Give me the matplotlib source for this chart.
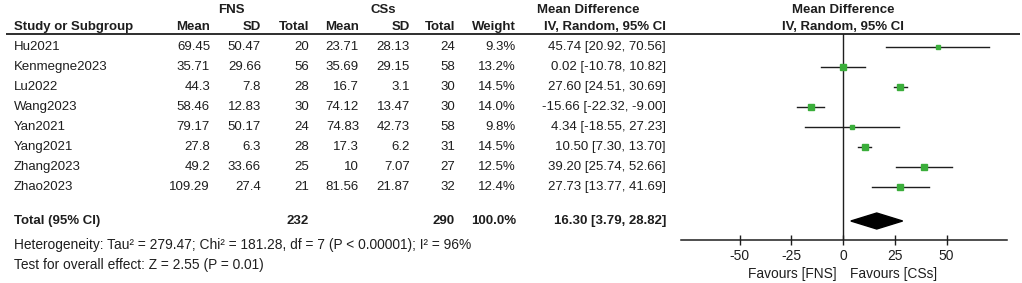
import matplotlib
matplotlib.use('Agg')
import matplotlib.pyplot as plt
from matplotlib.patches import Polygon

plt.rcParams['font.family'] = ['Liberation Sans', 'DejaVu Sans']

studies = ['Hu2021', 'Kenmegne2023', 'Lu2022', 'Wang2023', 'Yan2021',
           'Yang2021', 'Zhang2023', 'Zhao2023']
fns_mean = ['69.45', '35.71', '44.3', '58.46', '79.17', '27.8', '49.2', '109.29']
fns_sd = ['50.47', '29.66', '7.8', '12.83', '50.17', '6.3', '33.66', '27.4']
fns_n = [20, 56, 28, 30, 24, 28, 25, 21]
css_mean = ['23.71', '35.69', '16.7', '74.12', '74.83', '17.3', '10', '81.56']
css_sd = ['28.13', '29.15', '3.1', '13.47', '42.73', '6.2', '7.07', '21.87']
css_n = [24, 58, 30, 30, 58, 31, 27, 32]
weight = [9.3, 13.2, 14.5, 14.0, 9.8, 14.5, 12.5, 12.4]
md = [45.74, 0.02, 27.60, -15.66, 4.34, 10.50, 39.20, 27.73]
lo = [20.92, -10.78, 24.51, -22.32, -18.55, 7.30, 25.74, 13.77]
hi = [70.56, 10.82, 30.69, -9.00, 27.23, 13.70, 52.66, 41.69]

total_fns, total_css = 232, 290
pooled, pooled_lo, pooled_hi = 16.30, 3.79, 28.82
het_text = 'Heterogeneity: Tau\u00b2 = 279.47; Chi\u00b2 = 181.28, df = 7 (P < 0.00001); I\u00b2 = 96%'
test_text = 'Test for overall effect: Z = 2.55 (P = 0.01)'
ticks = [-50, -25, 0, 25, 50]

W, H = 1022, 283
fig = plt.figure(figsize=(W / 100, H / 100), dpi=100)
fig.patch.set_facecolor('white')

# text layer in pixel coordinates
tx = fig.add_axes([0, 0, 1, 1])
tx.set_xlim(0, W)
tx.set_ylim(H, 0)
tx.axis('off')

fs = 9.5
fs_long = 9.9
col = '#1e1e1e'
rows_y = [47 + 20 * i for i in range(len(studies))]
y_total, y_het, y_test = 221, 245, 265

# column right edges
c_name = 14
c_fm, c_fsd, c_fn = 210, 261, 309
c_cm, c_csd, c_cn = 359, 410, 455
c_w, c_ci = 516, 666


def t(x, y, s, ha='right', bold=False, size=fs):
    tx.text(x, y, s, ha=ha, va='center', fontsize=size, color=col,
            fontweight='bold' if bold else 'normal')


t(231, 10, 'FNS', ha='center', bold=True)
t(383, 10, 'CSs', ha='center', bold=True)
t(537, 10, 'Mean Difference', ha='left', bold=True)
t(843, 10, 'Mean Difference', ha='center', bold=True)

hy = 27
t(c_name, hy, 'Study or Subgroup', ha='left', bold=True)
for x, s in [(c_fm, 'Mean'), (c_fsd, 'SD'), (c_fn, 'Total'), (c_cm, 'Mean'),
             (c_csd, 'SD'), (c_cn, 'Total'), (c_w, 'Weight')]:
    t(x, hy, s, bold=True)
t(c_ci, hy, 'IV, Random, 95% CI', bold=True)
t(843, hy, 'IV, Random, 95% CI', ha='center', bold=True)
tx.plot([6, 1020], [34, 34], color=col, lw=1.3, solid_capstyle='butt')

for i, y in enumerate(rows_y):
    t(c_name, y, studies[i], ha='left')
    t(c_fm, y, fns_mean[i])
    t(c_fsd, y, fns_sd[i])
    t(c_fn, y, str(fns_n[i]))
    t(c_cm, y, css_mean[i])
    t(c_csd, y, css_sd[i])
    t(c_cn, y, str(css_n[i]))
    t(c_w, y, f'{weight[i]:.1f}%')
    t(c_ci, y, f'{md[i]:.2f} [{lo[i]:.2f}, {hi[i]:.2f}]')

t(c_name, y_total, 'Total (95% CI)', ha='left', bold=True)
t(c_fn, y_total, str(total_fns), bold=True)
t(c_cn, y_total, str(total_css), bold=True)
t(c_w, y_total, '100.0%', bold=True)
t(c_ci, y_total, f'{pooled:.2f} [{pooled_lo:.2f}, {pooled_hi:.2f}]', bold=True)
t(c_name, y_het, het_text, ha='left', size=fs_long)
t(c_name, y_test, test_text, ha='left', size=fs_long)

# forest plot
ax_l, ax_r, ax_top, ax_bot = 681, 1007, 34, 240
zero_px, px_per_unit = 843, 2.07
ax = fig.add_axes([ax_l / W, 1 - ax_bot / H, (ax_r - ax_l) / W, (ax_bot - ax_top) / H])
ax.patch.set_alpha(0)
ax.set_xlim((ax_l - zero_px) / px_per_unit, (ax_r - zero_px) / px_per_unit)
ax.set_ylim(ax_bot, ax_top)
for s in ['top', 'left', 'right']:
    ax.spines[s].set_visible(False)
ax.spines['bottom'].set_color(col)
ax.spines['bottom'].set_linewidth(1.1)
ax.set_yticks([])
ax.set_xticks(ticks)
ax.set_xticklabels([str(v) for v in ticks])
ax.tick_params(axis='x', direction='inout', length=7, width=1.0, color=col,
               labelsize=fs_long, labelcolor=col, pad=3)
ax.axvline(0, color=col, lw=1.0)

green = '#3aae3a'
for i, y in enumerate(rows_y):
    ax.plot([lo[i], hi[i]], [y, y], color=col, lw=1.0, zorder=2)
    ms = weight[i] * 0.42 * 0.72
    ax.plot(md[i], y, marker='s', ms=ms, color=green, mec=green, zorder=3)

ax.add_patch(Polygon([(pooled_lo, y_total), (pooled, y_total - 8),
                      (pooled_hi, y_total), (pooled, y_total + 8)],
                     closed=True, color='black', zorder=3))

ax.text(-3, 274, 'Favours [FNS]', ha='right', va='center', fontsize=fs_long,
        color=col, clip_on=False)
ax.text(3.5, 274, 'Favours [CSs]', ha='left', va='center', fontsize=fs_long,
        color=col, clip_on=False)

fig.savefig('out.png', dpi=100, facecolor='white')
